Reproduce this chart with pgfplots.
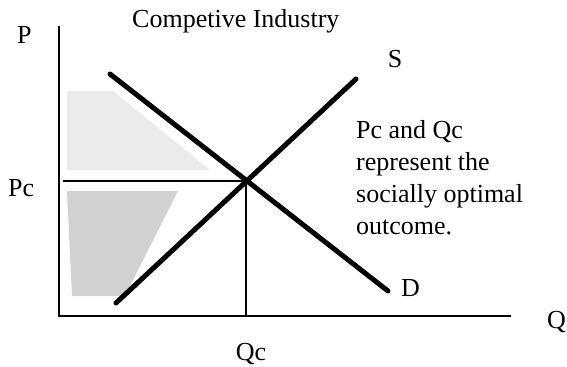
\documentclass[border=0pt]{standalone}
\usepackage{pgfplots}
\pgfplotsset{compat=1.18}
\usepackage{fontspec}
\setmainfont{Liberation Serif}
\newcommand{\lf}{\fontsize{26bp}{30bp}\selectfont}
\begin{document}
\begin{tikzpicture}
\begin{axis}[
  x=1bp, y=1bp, y dir=reverse,
  xmin=0, xmax=567, ymin=0, ymax=367,
  axis lines=none, clip=false,
]
% shaded regions
\addplot[draw=none, fill=gray!16] coordinates {(67,91) (113,91) (210,170) (67,170)} -- cycle;
\addplot[draw=none, fill=gray!36] coordinates {(67,191) (178,191) (125,296) (72,296)} -- cycle;
% axes
\addplot[black, line width=2bp] coordinates {(59,26) (59,316) (511,316)};
% Pc and Qc lines
\addplot[black, line width=2bp] coordinates {(63,181) (247,181)};
\addplot[black, line width=2bp] coordinates {(246,181) (246,316)};
% Demand
\addplot[black, line width=5bp, line cap=round] coordinates {(110,74) (388,291)};
% Supply
\addplot[black, line width=5bp, line cap=round] coordinates {(116,303) (356,79)};
% labels
\node[inner sep=0pt, font=\lf, anchor=base west] at (axis cs:132,27) {Competive Industry};
\node[inner sep=0pt, font=\lf, anchor=base west] at (axis cs:17,43) {P};
\node[inner sep=0pt, font=\lf, anchor=base] at (axis cs:395,67) {S};
\node[inner sep=0pt, font=\lf, anchor=base west] at (axis cs:8,196) {Pc};
\node[inner sep=0pt, font=\lf, anchor=base west] at (axis cs:401,296) {D};
\node[inner sep=0pt, font=\lf, anchor=base east] at (axis cs:566,328) {Q};
\node[inner sep=0pt, font=\lf, anchor=base] at (axis cs:251,360) {Qc};
\node[inner sep=0pt, font=\lf, anchor=base west] at (axis cs:356,138) {Pc and Qc};
\node[inner sep=0pt, font=\lf, anchor=base west] at (axis cs:356,170) {represent the};
\node[inner sep=0pt, font=\lf, anchor=base west] at (axis cs:356,202) {socially optimal};
\node[inner sep=0pt, font=\lf, anchor=base west] at (axis cs:356,234) {outcome.};
\end{axis}
\pgfresetboundingbox
\path (0,0) rectangle (567bp,367bp);
\end{tikzpicture}
\end{document}
